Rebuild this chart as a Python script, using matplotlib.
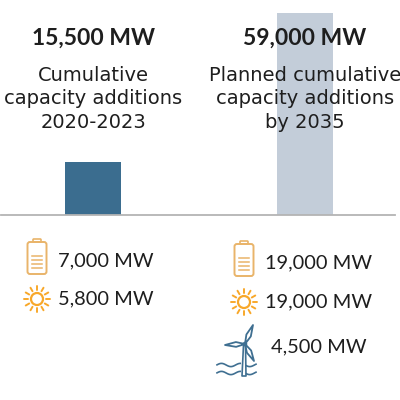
import numpy as np
import matplotlib.pyplot as plt
from matplotlib.patches import FancyBboxPatch, Circle

periods = ['2020-2023', 'by 2035']
totals_mw = [15500, 59000]
total_labels = ['15,500 MW', '59,000 MW']
captions = ['Cumulative\ncapacity additions\n2020-2023',
            'Planned cumulative\ncapacity additions\nby 2035']
bar_colors = ['#3b6d8f', '#c3cdd9']

# breakdown rows under each bar: (icon, label)
left_items = [('battery', '7,000 MW'), ('sun', '5,800 MW')]
right_items = [('battery', '19,000 MW'), ('sun', '19,000 MW'), ('wind', '4,500 MW')]

BATTERY = '#e9b46a'
SUN = '#f8a82a'
WIND = '#3f6f91'
TXT = '#1e1e1e'
FONT = 'Lato'

W = H = 400.0
fig = plt.figure(figsize=(4, 4), dpi=100)

# bar axes: baseline at y=215px, tall bar reaches y=13px
ax = fig.add_axes([1 / W, 1 - 215 / H, 394 / W, 202 / H])
x = np.arange(len(periods))
ax.bar(x, totals_mw, width=0.264, color=bar_colors)
ax.set_xlim(-0.434, 1.425)
ax.set_ylim(0, max(totals_mw))
for s in ['top', 'left', 'right']:
    ax.spines[s].set_visible(False)
ax.spines['bottom'].set_color('#b4b4b4')
ax.spines['bottom'].set_linewidth(1.3)
ax.set_xticks([])
ax.set_yticks([])
ax.patch.set_alpha(0)

# overlay in pixel coords for text + icons
ov = fig.add_axes([0, 0, 1, 1], zorder=5)
ov.set_xlim(0, W)
ov.set_ylim(H, 0)
ov.axis('off')

centers = [93, 305]
for cx, lab, cap in zip(centers, total_labels, captions):
    ov.text(cx, 38, lab, ha='center', va='center', fontsize=16.5,
            fontweight='bold', color=TXT, family=FONT)
    ov.text(cx, 99, cap, ha='center', va='center', fontsize=14,
            color=TXT, family='DejaVu Sans', linespacing=1.27)


def battery(cx, top):
    w, h = 19, 32
    ov.add_patch(FancyBboxPatch((cx - w / 2, top + 3), w, h,
                                boxstyle='round,pad=0,rounding_size=2.5',
                                fill=False, ec=BATTERY, lw=1.4))
    ov.add_patch(FancyBboxPatch((cx - 4, top), 8, 3,
                                boxstyle='round,pad=0,rounding_size=0.8',
                                fill=False, ec=BATTERY, lw=1.2))
    for k in range(4):
        yy = top + h - 3 - k * 4
        ov.plot([cx - 5, cx + 5], [yy, yy], color=BATTERY, lw=1.1)


def sun(cx, cy):
    ov.add_patch(Circle((cx, cy), 6, fill=False, ec=SUN, lw=1.6))
    for a in np.arange(0, 360, 30):
        t = np.deg2rad(a)
        ov.plot([cx + 9 * np.cos(t), cx + 13 * np.cos(t)],
                [cy + 9 * np.sin(t), cy + 13 * np.sin(t)],
                color=SUN, lw=1.4, solid_capstyle='round')


def wind(hx, hy):
    ov.plot([hx - 1.5, hx - 3, hx + 1, hx + 0.5], [hy + 1, hy + 32, hy + 32, hy + 1],
            color=WIND, lw=1.2)
    ov.add_patch(Circle((hx, hy), 1.6, fill=False, ec=WIND, lw=1.0))
    for dx, dy in [(8, -19), (-20, 1), (9, 17)]:
        L = np.hypot(dx, dy)
        nx, ny = -dy / L * 2.4, dx / L * 2.4
        ov.plot([hx, hx + dx * 0.45 + nx, hx + dx, hx + dx * 0.45 - nx, hx],
                [hy, hy + dy * 0.45 + ny, hy + dy, hy + dy * 0.45 - ny, hy],
                color=WIND, lw=1.3)
    xs = np.linspace(hx - 28, hx + 11, 80)
    for y0 in [21, 29]:
        ys = hy + y0 + 1.6 * np.sin((xs - hx) / 3.0)
        ys = np.where(np.abs(xs - hx + 1.5) < 3, np.nan, ys)
        ov.plot(xs, ys, color=WIND, lw=1.2)


left_rows = [(37, 58, 261), (37, 58, 299)]
right_rows = [(244, 265, 263), (244, 265, 302), (244, 271, 347)]
for items, rows in [(left_items, left_rows), (right_items, right_rows)]:
    for (icon, lab), (ix, tx, ty) in zip(items, rows):
        if icon == 'battery':
            battery(ix, ty - 22)
        elif icon == 'sun':
            sun(ix, ty)
        else:
            wind(ix + 1, ty - 3)
        ov.text(tx, ty, lab, ha='left', va='center', fontsize=14.4,
                color=TXT, family=FONT)

fig.savefig('out.png', dpi=100, facecolor='white')
